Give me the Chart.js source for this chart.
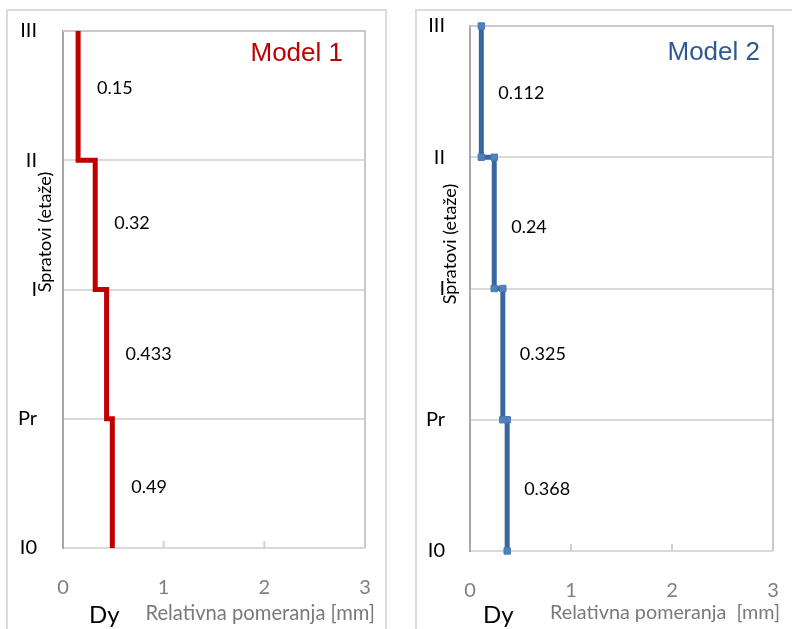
<!DOCTYPE html>
<html>
<head>
<meta charset="utf-8">
<script src="https://cdn.jsdelivr.net/npm/chart.js@4.4.0/dist/chart.umd.min.js"></script>
<style>
  body { margin: 0; background: #fff; width: 792px; height: 629px; overflow: hidden; position: relative; }
  .panel { position: absolute; border: 2px solid #dcdcdc; box-sizing: border-box; }
  #p1 { left: 6px; top: 9px; width: 381px; height: 660px; }
  #p2 { left: 415px; top: 9px; width: 420px; height: 660px; }
  canvas { position: absolute; }
  #c1 { left: 7px; top: 10px; }
  #c2 { left: 416px; top: 10px; }
</style>
</head>
<body>
<div class="panel" id="p1"></div>
<div class="panel" id="p2"></div>
<canvas id="c1" width="379" height="619"></canvas>
<canvas id="c2" width="376" height="619"></canvas>
<script>
// etaže odozdo prema gore
const storyLabels = ['I0', 'Pr', 'I', 'II', 'III'];
const xTickValues = [0, 1, 2, 3];
// relativna pomeranja po etaži (odozdo prema gore)
const model1Drift = [0.49, 0.433, 0.32, 0.15];
const model2Drift = [0.368, 0.325, 0.24, 0.112];

const calibri = "Lato, 'Open Sans', sans-serif";
const arial = "'Liberation Sans', Arial, sans-serif";

// tačke stepenaste linije: svaka etaža ima vrh i dno
function stepPoints(drift) {
    const pts = [];
    drift.forEach((v, i) => {
        pts.push({ x: v, y: i });
        pts.push({ x: v, y: i + 1 });
    });
    return pts;
}

// dodatni tekstovi i okviri
const extrasPlugin = {
    id: 'extras',
    beforeDatasetsDraw(chart, args, o) {
        const ctx = chart.ctx;
        const a = chart.chartArea;
        const xs = chart.scales.x;
        ctx.save();
        ctx.strokeStyle = '#c9c9c9';
        ctx.lineWidth = 2;
        ctx.beginPath();
        ctx.moveTo(a.left, a.top);
        ctx.lineTo(a.right, a.top);
        ctx.lineTo(a.right, a.bottom);
        ctx.stroke();
        // male crtice na x osi
        ctx.strokeStyle = '#d0d0d0';
        [1, 2].forEach(v => {
            const px = xs.getPixelForValue(v);
            ctx.beginPath();
            ctx.moveTo(px, a.bottom);
            ctx.lineTo(px, a.bottom - 7);
            ctx.stroke();
        });
        ctx.restore();
    },
    afterDraw(chart, args, o) {
        const ctx = chart.ctx;
        const xs = chart.scales.x;
        const ys = chart.scales.y;
        ctx.save();

        // vrednosti po etažama
        ctx.fillStyle = '#000';
        ctx.font = '18px ' + calibri;
        ctx.textAlign = 'left';
        ctx.textBaseline = 'middle';
        o.drift.forEach((v, i) => {
            const px = xs.getPixelForValue(v) + o.valueOffset;
            const py = (ys.getPixelForValue(i) + ys.getPixelForValue(i + 1)) / 2 + o.valueShift[i];
            ctx.fillText(String(v), px, py);
        });

        // naslov modela
        ctx.fillStyle = o.titleColor;
        ctx.font = '26px ' + arial;
        ctx.textAlign = 'right';
        ctx.fillText(o.title, o.titleRight, o.titleY);

        // naslov y ose
        ctx.fillStyle = '#000';
        ctx.font = '18px ' + calibri;
        ctx.textAlign = 'center';
        ctx.translate(o.yTitleX, o.yTitleY);
        ctx.rotate(-Math.PI / 2);
        ctx.fillText('Spratovi (etaže)', 0, 0);
        ctx.setTransform(1, 0, 0, 1, 0, 0);

        // Dy
        ctx.font = '24px ' + calibri;
        ctx.textAlign = 'left';
        ctx.fillText('Dy', o.dyX, o.bottomY);

        // naslov x ose
        ctx.fillStyle = '#7a7a7a';
        let size = 20;
        ctx.font = size + 'px ' + calibri;
        const w = ctx.measureText(o.xTitle).width;
        size = size * o.xTitleWidth / w;
        ctx.font = size.toFixed(1) + 'px ' + calibri;
        ctx.textAlign = 'right';
        ctx.fillText(o.xTitle, o.xTitleRight, o.bottomY - 2);
        ctx.restore();
    }
};

function makeChart(id, drift, color, withMarkers, lay, extras) {
    return new Chart(document.getElementById(id), {
        type: 'scatter',
        data: {
            datasets: [{
                data: stepPoints(drift),
                showLine: true,
                clip: false,
                borderColor: color,
                borderWidth: 5,
                pointStyle: 'rect',
                pointRadius: withMarkers ? 4.5 : 0,
                pointBackgroundColor: '#4f81bd',
                pointBorderColor: '#4a78b4',
                pointBorderWidth: 1,
                tension: 0
            }]
        },
        options: {
            responsive: false,
            animation: false,
            layout: { autoPadding: false, padding: { top: lay.top, right: lay.right, left: 0, bottom: 0 } },
            plugins: {
                legend: { display: false },
                tooltip: { enabled: false },
                extras: Object.assign({ drift: drift }, extras)
            },
            scales: {
                x: {
                    type: 'linear',
                    min: 0,
                    max: 3,
                    afterBuildTicks: s => { s.ticks = xTickValues.map(v => ({ value: v })); },
                    afterFit: s => { s.height = lay.bottom; s.paddingLeft = 0; s.paddingRight = 0; },
                    border: { display: false },
                    grid: { display: true, drawOnChartArea: false, drawTicks: false },
                    ticks: { color: '#7f7f7f', padding: 28, font: { family: calibri, size: 20 } }
                },
                y: {
                    type: 'linear',
                    min: 0,
                    max: 4,
                    afterBuildTicks: s => { s.ticks = storyLabels.map((l, i) => ({ value: i })); },
                    afterFit: s => { s.width = lay.left; s.paddingTop = 0; s.paddingBottom = 0; },
                    border: { display: true, color: '#a6a6a6', width: 2 },
                    grid: { color: '#d9d9d9', lineWidth: 2, drawTicks: false },
                    ticks: {
                        color: '#000',
                        padding: lay.tickPad,
                        font: { family: calibri, size: 20 },
                        callback: v => storyLabels[v]
                    }
                }
            }
        },
        plugins: [extrasPlugin]
    });
}

makeChart('c1', model1Drift, '#c00000', false,
    { top: 21, right: 21, left: 56, bottom: 81, tickPad: 26 },
    { title: 'Model 1', titleColor: '#c00000', titleRight: 336, titleY: 44,
      valueOffset: 19, valueShift: [4, 0, -2, -7], yTitleX: 38, yTitleY: 222, dyX: 82, bottomY: 605,
      xTitle: 'Relativna pomeranja [mm]', xTitleRight: 368, xTitleWidth: 230 });

makeChart('c2', model2Drift, '#3a66a0', true,
    { top: 16, right: 19, left: 54, bottom: 78, tickPad: 25 },
    { title: 'Model 2', titleColor: '#2e5a94', titleRight: 344, titleY: 43,
      valueOffset: 17, valueShift: [4, 0, 4, 2], yTitleX: 34, yTitleY: 234, dyX: 67, bottomY: 605,
      xTitle: 'Relativna pomeranja  [mm]', xTitleRight: 364, xTitleWidth: 230 });
</script>
</body>
</html>
